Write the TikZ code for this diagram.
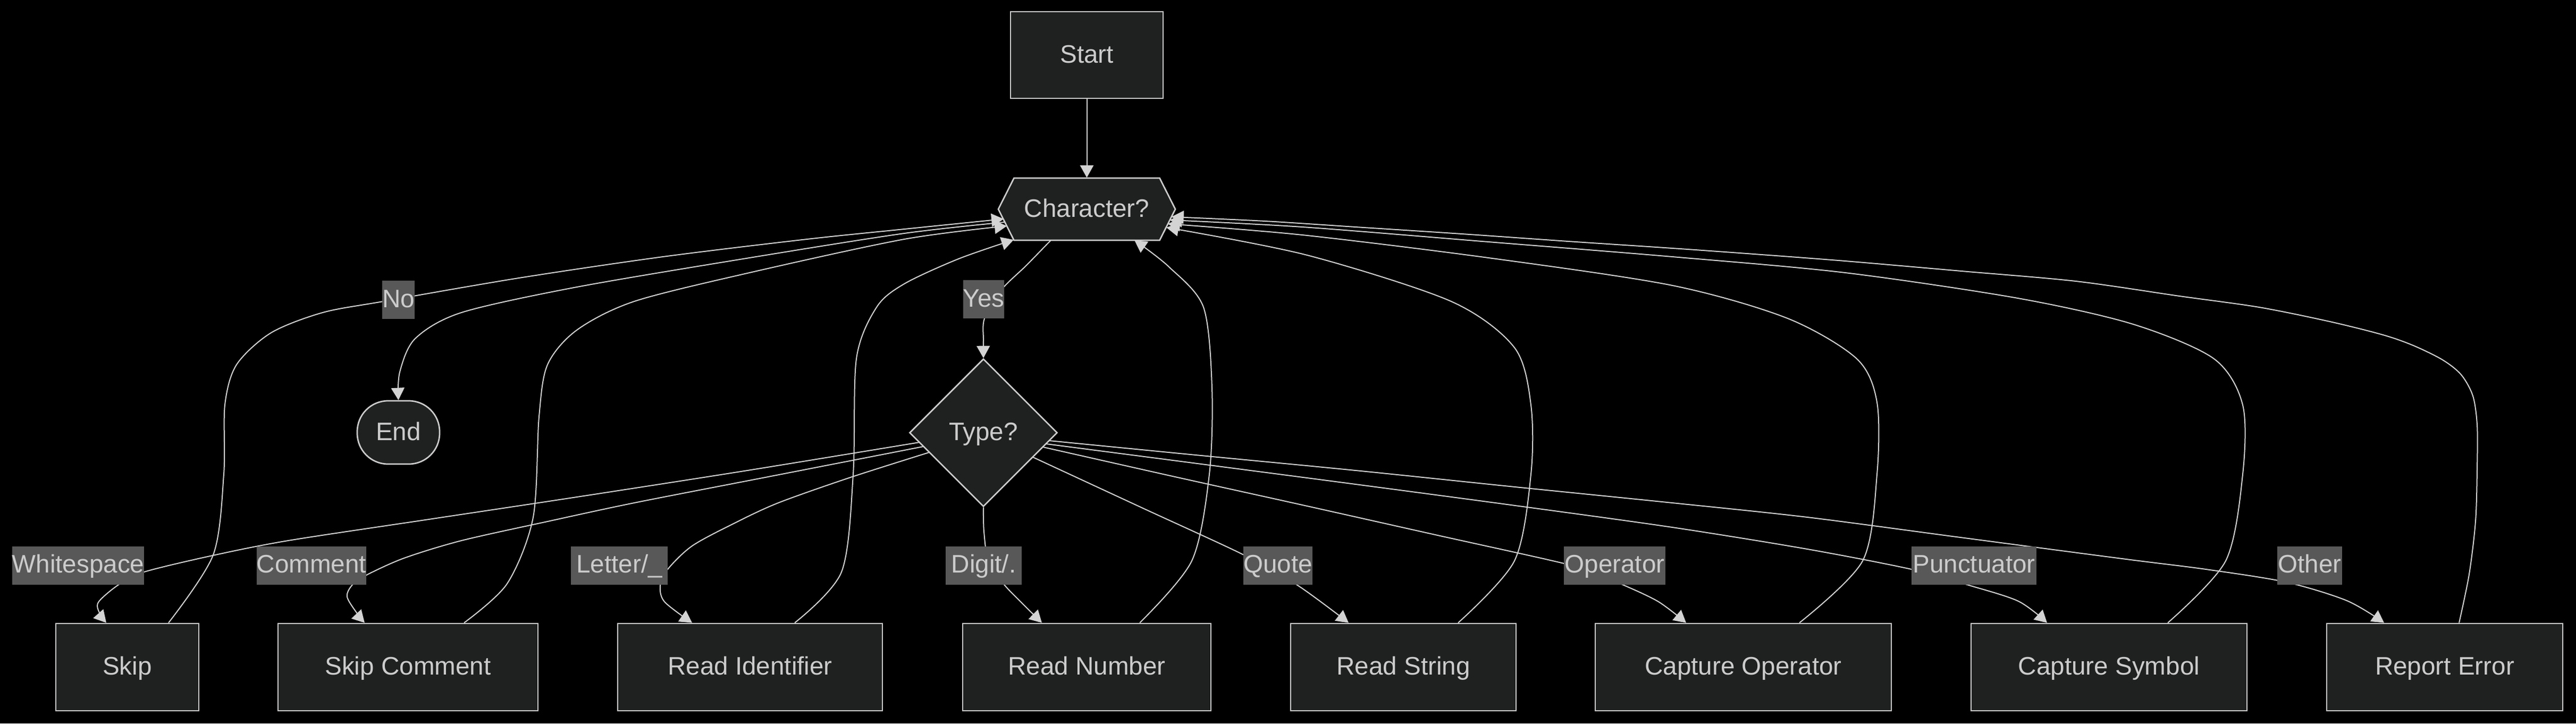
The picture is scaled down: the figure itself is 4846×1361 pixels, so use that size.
\documentclass[tikz,border=0pt]{standalone}
\usepackage{fontspec}
\setmainfont{Liberation Sans}
\usetikzlibrary{shapes.geometric,arrows.meta}
\definecolor{bgc}{HTML}{000000}
\definecolor{nodefill}{HTML}{1F2020}
\definecolor{nodeline}{HTML}{CCCCCC}
\definecolor{txtc}{HTML}{CCCCCC}
\definecolor{edgec}{HTML}{D3D3D3}
\definecolor{lblfill}{HTML}{585858}
\begin{document}
\begin{tikzpicture}[x=0.25pt,y=-0.25pt,
  font=\fontsize{11.9pt}{14pt}\selectfont,
  capc/.style={text height=7.45pt, text depth=0pt},
  box/.style={draw=nodeline, fill=nodefill, line width=0.68pt, text=txtc, inner sep=0pt, minimum height=41pt, capc},
  hexline/.style={draw=nodeline, fill=nodefill, line width=0.68pt},
  lbl/.style={fill=lblfill, text=txtc, inner ysep=0pt, inner xsep=0pt, minimum height=18pt, text height=7.2pt, text depth=0pt},
  edge/.style={draw=edgec, line width=0.5pt},
  arr/.style={edge, -{Triangle[length=5.75pt,width=6.25pt]}},
  sm/.style={smooth, tension=0.5}
  ]
\fill[bgc] (0,0) rectangle (4846,1361);
\useasboundingbox (0,0) rectangle (4846,1361);

% ---------- nodes ----------
\node[box, minimum width=71.75pt, minimum height=40.75pt] (start) at (2044.5,103.5) {Start};
\filldraw[hexline] (1878,393.5) -- (1907.5,335) -- (2181.5,335) -- (2211,393.5) -- (2181.5,452) -- (1907.5,452) -- cycle;
\node[text=txtc, inner sep=0pt, minimum width=83.25pt, minimum height=29.25pt, capc] (char) at (2044.5,393.5) {Character?};
\node[box, rounded corners=14.5pt, minimum width=38.75pt, minimum height=29.75pt] (end) at (749.5,813.5) {End};
\node[box, diamond, aspect=1, minimum width=69.5pt, minimum height=69.5pt] (type) at (1850,814) {Type?};

\node[box, minimum width=67.25pt]  (skip)  at (239.5,1255) {Skip};
\node[box, minimum width=122.25pt] (skipc) at (767.5,1255) {Skip Comment};
\node[box, minimum width=124.5pt]  (rid)   at (1411,1255) {Read Identifier};
\node[box, minimum width=116.75pt] (rnum)  at (2044.5,1255) {Read Number};
\node[box, minimum width=106pt]    (rstr)  at (2640,1255) {Read String};
\node[box, minimum width=139.25pt] (capop) at (3279.5,1255) {Capture Operator};
\node[box, minimum width=129.75pt] (capsym) at (3967.5,1255) {Capture Symbol};
\node[box, minimum width=111pt]    (rerr)  at (4599,1255) {Report Error};

% ---------- connector end points on Character? and Type? ----------
\coordinate (cL1) at ([xshift=-39.1pt,yshift=-4.6pt]char.center);
\coordinate (cL2) at ([xshift=-38.5pt,yshift=-6.1pt]char.center);
\coordinate (cL3) at ([xshift=-37.6pt,yshift=-7.9pt]char.center);
\coordinate (cL4) at ([xshift=-34.4pt,yshift=-14.4pt]char.center);
\coordinate (cY)  at ([xshift=-16.9pt,yshift=-14.6pt]char.center);
\coordinate (cN)  at ([xshift=22.4pt,yshift=-14.6pt]char.center);
\coordinate (cR1) at ([xshift=39.8pt,yshift=-3.6pt]char.center);
\coordinate (cR2) at ([xshift=39.0pt,yshift=-5.1pt]char.center);
\coordinate (cR3) at ([xshift=38.1pt,yshift=-6.9pt]char.center);
\coordinate (cR4) at ([xshift=37.4pt,yshift=-8.6pt]char.center);

\coordinate (tW)  at ([xshift=-30pt,yshift=-4.5pt]type.center);
\coordinate (tC)  at ([xshift=-28.25pt,yshift=-6.5pt]type.center);
\coordinate (tL)  at ([xshift=-25.5pt,yshift=-9.25pt]type.center);
\coordinate (tQ)  at ([xshift=23.25pt,yshift=-11.5pt]type.center);
\coordinate (tO)  at ([xshift=28pt,yshift=-6.75pt]type.center);
\coordinate (tP)  at ([xshift=29.5pt,yshift=-5.25pt]type.center);
\coordinate (tOt) at ([xshift=31pt,yshift=-3.75pt]type.center);

% ---------- connectors ----------
\draw[arr] (start.south) -- (char.north);
\draw[arr] plot[sm] coordinates {(cY) (1930,500) (1884,545) (1852,599) (1850,640) (type.north)};
\draw[arr] plot[sm] coordinates {(cL2) (1701,439) (1410,485) (1085,540) (868,588) (781,637) (752,700) (end.north)};

% back edges
\draw[arr] plot[sm] coordinates {([xshift=19.375pt]skip.north) (401,1044) (421,892) (423,762) (445,686) (510,626) (607,588) (721,567) (976,523) (1247,483) (1518,450) (1701,431) (cL1)};
\draw[arr] plot[sm] coordinates {([xshift=26.375pt]skipc.north) (954,1098) (1003,973) (1014,784) (1030,686) (1085,621) (1193,567) (1410,513) (1701,450) (cL3)};
\draw[arr] plot[sm] coordinates {([xshift=21pt]rid.north) (1583,1076) (1605,892) (1611,675) (1649,578) (1701,534) (1803,487) (cL4)};
\draw[arr] plot[sm] coordinates {([xshift=24.875pt]rnum.north) (2242,1055) (2275,892) (2280,730) (2264,578) (2199,502) (cN)};
\draw[arr] plot[sm] coordinates {([xshift=25.75pt]rstr.north) (2849,1055) (2880,892) (2880,762) (2849,654) (2730,567) (2459,480) (cR4)};
\draw[arr] plot[sm] coordinates {([xshift=26.375pt]capop.north) (3504,1055) (3531,892) (3531,757) (3493,675) (3363,599) (3146,537) (2800,485) (2450,442) (cR3)};
\draw[arr] plot[sm] coordinates {([xshift=27.625pt]capsym.north) (4187,1055) (4219,892) (4219,762) (4165,675) (4013,610) (3796,561) (3471,513) (3146,483) (2800,455) (2450,427) (cR2)};
\draw[arr] plot[sm] coordinates {([xshift=6.75pt]rerr.north) (4645,1080) (4657,980) (4660,880) (4660,800) (4652,745) (4630,705) (4595,677) (4540,650) (4483,630) (4383,605) (4250,578) (4100,557) (3905,529) (3690,510) (3471,491) (3300,478) (3146,467) (2950,454) (2750,440) (2550,427) (2380,416) (cR1)};

% forward edges from Type?
\draw[arr] plot[sm] coordinates {(tW) (1400,886) (1085,935) (800,978) (542,1017) (400,1045) (271,1076) (223,1100) (185,1133) (188,1155) ([xshift=-9.875pt]skip.north)};
\draw[arr] plot[sm] coordinates {(tC) (1450,896) (1193,946) (1030,981) (868,1017) (760,1050) (689,1082) (663,1100) (653,1123) (674,1157) ([xshift=-20.375pt]skipc.north)};
\draw[arr] plot[sm] coordinates {(tL) (1600,898) (1464,946) (1380,985) (1302,1027) (1256,1071) (1242,1101) (1250,1132) ([xshift=-27.25pt]rid.north)};
\draw[arr] plot[sm] coordinates {(type.south) (1851,1000) (1860,1060) (1890,1101) (1925,1137) ([xshift=-21.125pt]rnum.north)};
\draw[arr] plot[sm] coordinates {(tQ) (2150,956) (2340,1044) (2441,1101) ([xshift=-25.75pt]rstr.north)};
\draw[arr] plot[sm] coordinates {(tO) (2206,896) (2450,950) (2700,1006) (2942,1060) (3000,1080) (3055,1101) (3120,1132) ([xshift=-26.875pt]capop.north)};
\draw[arr] plot[sm] coordinates {(tP) (2260,873) (2550,911) (2850,951) (3146,992) (3400,1033) (3596,1071) (3704,1101) (3797,1131) ([xshift=-29.125pt]capsym.north)};
\draw[arr] plot[sm] coordinates {(tOt) (2260,857) (2550,885) (2850,916) (3146,946) (3400,973) (3688,1011) (4000,1052) (4150,1071) (4300,1095) (4415,1130) ([xshift=-28.5pt]rerr.north)};

% ---------- edge labels ----------
\node[lbl, minimum width=14.25pt] (lno)  at (749.5,564) {No};
\node[lbl, minimum width=17.25pt] (lyes) at (1850.5,563) {Yes};
\node[lbl, minimum width=61.5pt]  (lws)  at (147,1063.5) {Whitespace};
\node[lbl, minimum width=51.5pt]  (lcm)  at (586,1063.5) {Comment};
\node[lbl, minimum width=45.5pt]  (llt)  at (1165,1063.5) {Letter/\_};
\node[lbl, minimum width=35.75pt] (ldg)  at (1850.5,1063.5) {Digit/.};
\node[lbl, minimum width=32pt]    (lqt)  at (2404,1063.5) {Quote};
\node[lbl, minimum width=47.75pt] (lop)  at (3037.5,1063.5) {Operator};
\node[lbl, minimum width=58.75pt] (lpn)  at (3713.5,1063.5) {Punctuator};
\node[lbl, minimum width=30.5pt]  (lot)  at (4345,1063.5) {Other};
\end{tikzpicture}
\end{document}
